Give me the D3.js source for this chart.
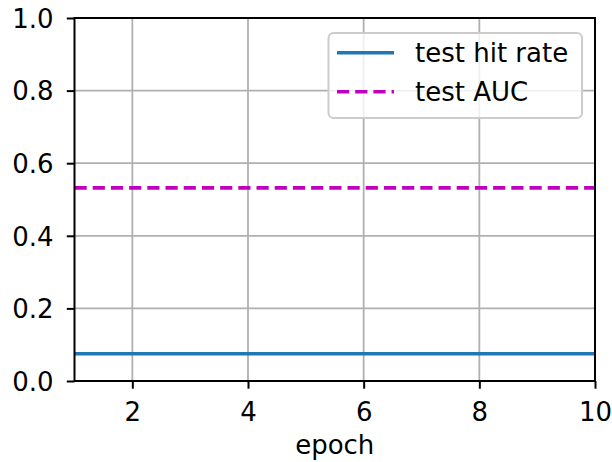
<!DOCTYPE html>
<html><head><meta charset="utf-8">
<script src="https://cdn.jsdelivr.net/npm/d3@7"></script>
<style>body{margin:0;background:#fff}svg{display:block}text{font-family:"DejaVu Sans",sans-serif}</style>
</head><body>
<script>
const epochs = [1,2,3,4,5,6,7,8,9,10];
const hitRate = [0.075,0.075,0.075,0.075,0.075,0.075,0.075,0.075,0.075,0.075];
const auc = [0.532,0.532,0.532,0.532,0.532,0.532,0.532,0.532,0.532,0.532];
const xTicks = [2,4,6,8,10];
const yTicks = [0,0.2,0.4,0.6,0.8,1.0];
const seriesNames = ["test hit rate","test AUC"];

const W=612,H=462;
const m={l:74.5,r:595,t:18,b:381};
const svg=d3.select("body").append("svg").attr("width",W).attr("height",H);
const x=d3.scaleLinear().domain([1,10]).range([m.l,m.r]);
const y=d3.scaleLinear().domain([0,1]).range([m.b,m.t]);
const fs=26;

// grid
svg.append("g").selectAll("line").data(xTicks).join("line")
  .attr("x1",d=>x(d)).attr("x2",d=>x(d)).attr("y1",m.t).attr("y2",m.b)
  .attr("stroke","#b0b0b0").attr("stroke-width",1.8);
svg.append("g").selectAll("line").data(yTicks).join("line")
  .attr("x1",m.l).attr("x2",m.r).attr("y1",d=>y(d)).attr("y2",d=>y(d))
  .attr("stroke","#b0b0b0").attr("stroke-width",1.8);

// lines
const line=(vals)=>d3.line().x((d,i)=>x(epochs[i])).y(d=>y(d))(vals);
svg.append("path").attr("d",line(hitRate)).attr("fill","none").attr("stroke","#1f77b4").attr("stroke-width",3.6);
svg.append("path").attr("d",line(auc)).attr("fill","none").attr("stroke","#bf00bf").attr("stroke-width",3.6).attr("stroke-dasharray","12.2,6");

// axes
const xa=svg.append("g").attr("transform",`translate(0,${m.b})`).call(d3.axisBottom(x).tickValues(xTicks).tickFormat(d3.format("d")).tickSizeOuter(0).tickSize(7.7));
const ya=svg.append("g").attr("transform",`translate(${m.l},0)`).call(d3.axisLeft(y).tickValues(yTicks).tickFormat(d3.format(".1f")).tickSizeOuter(0).tickSize(7.7));
[xa,ya].forEach(a=>{
  a.selectAll("text").attr("font-size",fs).attr("font-family","DejaVu Sans").attr("fill","#000");
  a.selectAll("line").attr("stroke","#000").attr("stroke-width",2);
  a.select(".domain").remove();
});
ya.selectAll("text").attr("x",-21).attr("dy","0.36em");
xa.selectAll("text").attr("y",40).attr("dy",0);
// spines
svg.append("rect").attr("x",m.l).attr("y",m.t).attr("width",m.r-m.l).attr("height",m.b-m.t)
  .attr("fill","none").attr("stroke","#000").attr("stroke-width",2);

svg.append("text").attr("x",(m.l+m.r)/2).attr("y",454).attr("text-anchor","middle").attr("font-size",fs).text("epoch");

// legend
const lg=svg.append("g");
lg.append("rect").attr("x",328.5).attr("y",33).attr("width",253.5).attr("height",85).attr("rx",5)
  .attr("fill","#fff").attr("fill-opacity",0.8).attr("stroke","#cccccc").attr("stroke-width",2);
const ly=[52.7,91.7];
lg.append("line").attr("x1",337).attr("x2",394).attr("y1",ly[0]).attr("y2",ly[0]).attr("stroke","#1f77b4").attr("stroke-width",3.6);
lg.append("line").attr("x1",337).attr("x2",394).attr("y1",ly[1]).attr("y2",ly[1]).attr("stroke","#bf00bf").attr("stroke-width",3.6).attr("stroke-dasharray","12.2,6");
seriesNames.forEach((n,i)=>lg.append("text").attr("x",415).attr("y",ly[i]).attr("dy","0.36em").attr("font-size",fs).text(n));
</script>
</body></html>
